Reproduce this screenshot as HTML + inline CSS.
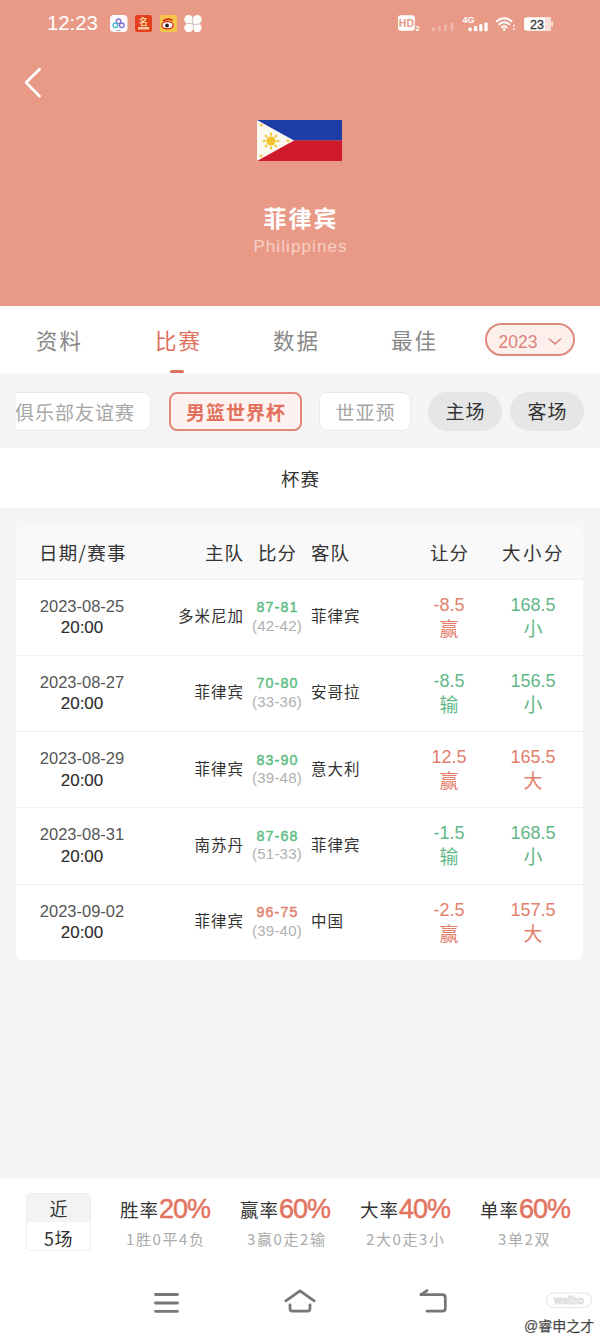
<!DOCTYPE html>
<html lang="zh-CN">
<head>
<meta charset="utf-8">
<title>菲律宾</title>
<style>
*{margin:0;padding:0;box-sizing:border-box;}
html,body{width:600px;height:1338px;overflow:hidden;}
body{position:relative;background:#f5f5f5;font-family:"Liberation Sans","Noto Sans CJK SC",sans-serif;color:#333;}
.abs{position:absolute;}
.cn{font-family:"Noto Sans CJK SC","Liberation Sans",sans-serif;}
.num{font-family:"Liberation Sans","Noto Sans CJK SC",sans-serif;}
/* header */
#hdr{left:0;top:0;width:600px;height:306px;background:#e89a86;}
#time{left:47px;top:10.8px;font-size:20.5px;color:#fff;letter-spacing:-0.1px;}
#title{left:0;width:600px;top:200px;text-align:center;font-size:23px;font-weight:700;color:#fff;letter-spacing:2px;text-indent:2px;}
#sub{left:0;width:600px;top:237px;text-align:center;font-size:17px;letter-spacing:1.1px;text-indent:1.1px;color:#f7cfc5;}
/* tabs */
#tabs{left:0;top:306px;width:600px;height:67px;background:#fff;}
.tab{top:17.5px;font-size:21.5px;color:#888;letter-spacing:2px;}
.tab.on{color:#e0705c;}
#ind{left:170px;top:64px;width:14px;height:3px;border-radius:2px;background:#e0705c;}
#year{left:485px;top:17px;width:90px;height:33px;border:2px solid #dc897e;border-radius:17px;background:#fdf0ec;}
#year span{position:absolute;left:11.5px;top:6.5px;font-size:17.5px;color:#d9857a;}
/* filter */
#filt{left:0;top:373px;width:600px;height:75px;background:#f5f5f5;overflow:hidden;}
.chip{position:absolute;top:19px;height:39px;border-radius:8px;font-size:19px;line-height:37px;text-align:center;letter-spacing:1px;text-indent:1px;}
.chip.w{background:#fff;border:1px solid #e9e9e9;color:#a6a6a6;}
.chip.a{background:#fdf2ef;border:2px solid #e3877b;color:#e2705d;font-weight:700;line-height:35px;}
.chip.g{background:#e6e6e6;border-radius:20px;color:#333;}
/* cup */
#cup{left:0;top:448px;width:600px;height:60px;background:#fff;text-align:center;font-size:18.5px;line-height:60px;color:#333;letter-spacing:1px;text-indent:1px;}
/* card */
#card{left:16px;top:526px;width:567px;height:433.75px;background:#fff;border-radius:8px;overflow:hidden;}
#card .hd{position:absolute;left:0;top:0;width:567px;height:52.5px;background:#f9f9f9;}
.row{position:absolute;left:0;width:567px;height:76.25px;border-top:1px solid #f0f0f0;}
.hdt{position:absolute;top:12.5px;font-size:18.5px;color:#333;letter-spacing:1px;}
.date{position:absolute;left:0;width:132px;text-align:center;top:17px;font-size:16.5px;color:#555;}
.tm{position:absolute;left:0;width:132px;text-align:center;top:38.5px;font-size:17px;color:#2b2b2b;-webkit-text-stroke:0.1px currentColor;}
.home{position:absolute;right:339px;top:24.5px;font-size:15.5px;letter-spacing:1px;color:#333;white-space:nowrap;}
.away{position:absolute;left:295px;top:24.5px;font-size:15.5px;letter-spacing:1px;color:#333;white-space:nowrap;}
.sc{position:absolute;left:221px;width:80px;text-align:center;top:18.5px;font-size:15.5px;color:#5cbd82;-webkit-text-stroke:0.45px currentColor;letter-spacing:1.2px;text-indent:1.2px;transform:scaleX(0.92);font-family:"Liberation Sans",sans-serif;}
.hf{position:absolute;left:221px;width:80px;text-align:center;top:37px;font-size:15px;color:#b0b0b0;letter-spacing:0.2px;font-family:"Liberation Sans",sans-serif;}
.v1{position:absolute;left:393px;width:80px;text-align:center;top:15px;font-size:18px;}
.r1{position:absolute;left:393px;width:80px;text-align:center;top:34px;font-size:19px;}
.v2{position:absolute;left:477px;width:80px;text-align:center;top:15px;font-size:18px;}
.r2{position:absolute;left:477px;width:80px;text-align:center;top:34px;font-size:19px;}
.red{color:#e2806c;}
.grn{color:#62b887;}
/* bottom */
#bot{left:0;top:1177px;width:600px;height:161px;background:#fff;box-shadow:inset 0 1px 0 #efefef;}
#near{left:26px;top:16px;width:65px;height:58px;border:1px solid #efefef;border-radius:4px;overflow:hidden;background:#fff;}
#near .t{position:absolute;left:0;top:0;width:63px;height:28px;background:#f3f3f3;text-align:center;font-size:18px;line-height:29px;color:#333;}
#near .b{position:absolute;left:0;top:28px;width:63px;height:28px;text-align:center;font-size:18px;line-height:32px;color:#333;letter-spacing:0.5px;}
.st{position:absolute;top:17px;white-space:nowrap;}
.st .k{font-size:18.5px;color:#333;letter-spacing:1px;position:relative;top:-1px;}
.st .p{font-size:27px;color:#e3735f;letter-spacing:-1px;-webkit-text-stroke:0.5px currentColor;}
.st2{position:absolute;top:51px;font-size:15px;color:#aaa;white-space:nowrap;letter-spacing:1.6px;}
</style>
</head>
<body>
<div id="hdr" class="abs">
  <div id="time" class="abs num">12:23</div>
  <svg class="abs" style="left:0;top:0" width="600" height="45" viewBox="0 0 600 45">
    <!-- app icon 1 -->
    <rect x="110" y="15" width="17.5" height="17" rx="4" fill="#fdfbff"/>
    <circle cx="118.6" cy="21.3" r="2.3" fill="none" stroke="#8a6bd0" stroke-width="1.3"/>
    <circle cx="115.4" cy="25.3" r="2.3" fill="none" stroke="#49b9c4" stroke-width="1.3"/>
    <circle cx="121.8" cy="25.3" r="2.3" fill="none" stroke="#7a72d6" stroke-width="1.3"/>
    <rect x="116.5" y="30" width="4" height="0.8" fill="#999"/>
    <!-- app icon 2 -->
    <rect x="135" y="15" width="17" height="17" rx="2.5" fill="#e4401c"/>
    <text x="143.5" y="25" font-size="9" fill="#f7d6a0" text-anchor="middle" font-family="Noto Sans CJK SC" font-weight="700">名</text>
    <rect x="138" y="27" width="11" height="2.5" fill="#f5c6a0"/>
    <!-- weibo -->
    <rect x="160" y="15" width="17" height="17" rx="2" fill="#f5c64a"/>
    <ellipse cx="167.5" cy="25.3" rx="5.6" ry="3.6" fill="#fff" stroke="#d42a1e" stroke-width="1.3"/>
    <circle cx="167" cy="25.5" r="1.9" fill="#222"/>
    <path d="M163 21 Q168 17.5 172.5 20.5" fill="none" stroke="#d42a1e" stroke-width="1.8"/>
    <!-- pinwheel -->
    <g fill="#fefcfb">
      <ellipse cx="188.7" cy="19.6" rx="4.4" ry="4.6"/>
      <ellipse cx="197.2" cy="19.6" rx="4.4" ry="4.6"/>
      <ellipse cx="188.7" cy="27.7" rx="4.4" ry="4.6"/>
      <ellipse cx="197.2" cy="27.7" rx="4.4" ry="4.6"/>
      <rect x="186" y="18" width="14" height="12"/>
    </g>
    <path d="M185.5 24 Q189 22.6 192.9 24 Q196.8 25.2 200.5 23.6 M192.9 16.5 Q191.6 20 192.9 23.8 Q194.2 27.6 192.9 31.2" fill="none" stroke="#b7aaa6" stroke-width="0.7"/>
    <!-- HD -->
    <rect x="398" y="15.3" width="16.8" height="15.5" rx="3" fill="#fff"/>
    <text x="406.4" y="27.2" font-size="10.5" font-weight="700" fill="#e89a86" text-anchor="middle" font-family="Liberation Sans">HD</text>
    <text x="415.6" y="31" font-size="7.5" font-weight="700" fill="#fff" font-family="Liberation Sans">2</text>
    <!-- faded signal -->
    <g fill="#fff" opacity="0.28">
      <rect x="432" y="27.5" width="3" height="3.8" rx="0.8"/>
      <rect x="438" y="26" width="3" height="5.3" rx="0.8"/>
      <rect x="444" y="24.3" width="3" height="7" rx="0.8"/>
      <rect x="450.5" y="22.5" width="3" height="8.8" rx="0.8"/>
    </g>
    <!-- 4G -->
    <text x="462.5" y="23.3" font-size="9" font-weight="700" fill="#fff" font-family="Liberation Sans">4G</text>
    <g fill="#fff">
      <rect x="468.5" y="27.5" width="3.2" height="3.8" rx="0.8"/>
      <rect x="474" y="26" width="3.2" height="5.3" rx="0.8"/>
      <rect x="479.2" y="24.3" width="3.2" height="7" rx="0.8"/>
      <rect x="484.4" y="22.5" width="3.2" height="8.8" rx="0.8"/>
    </g>
    <!-- wifi -->
    <g fill="none" stroke="#fff" stroke-width="2" stroke-linecap="round">
      <path d="M496.8 21.2 A11 11 0 0 1 511.6 21.2"/>
      <path d="M499.3 24.3 A7 7 0 0 1 509.1 24.3"/>
      <path d="M501.8 27.3 A3.2 3.2 0 0 1 506.6 27.3"/>
    </g>
    <circle cx="504.2" cy="29.6" r="1.3" fill="#fff"/>
    <circle cx="514" cy="25.5" r="0.9" fill="#fff"/>
    <circle cx="514" cy="29" r="0.9" fill="#fff"/>
    <!-- battery -->
    <rect x="524" y="17.3" width="27" height="13.4" rx="3" fill="#fff"/>
    <rect x="545" y="17.3" width="6" height="13.4" fill="#f8ddd6"/>
    <rect x="551.3" y="21.5" width="1.8" height="5" rx="0.8" fill="#f8ddd6"/>
    <text x="537" y="28.9" font-size="12.5" fill="#333" stroke="#333" stroke-width="0.3" text-anchor="middle" font-family="Liberation Sans">23</text>
  </svg>
  <svg class="abs" style="left:22px;top:66px" width="22" height="34" viewBox="0 0 22 34"><path d="M17.6 3.2 L4 16.5 L17.6 30.2" fill="none" stroke="#fff" stroke-width="2.7" stroke-linecap="round" stroke-linejoin="round"/></svg>
  <svg class="abs" style="left:257px;top:120px" width="85" height="41" viewBox="0 0 85 41">
    <rect x="0" y="0" width="85" height="20.5" fill="#1c3da6"/>
    <rect x="0" y="20.5" width="85" height="20.5" fill="#cf1a2b"/>
    <polygon points="0,0 37,20.5 0,41" fill="#fbf8f2"/>
    <circle cx="14" cy="21" r="4.6" fill="#f4c52a"/>
    <path d="M19.50 21.00L22.30 21.00 M17.89 24.89L19.87 26.87 M14.00 26.50L14.00 29.30 M10.11 24.89L8.13 26.87 M8.50 21.00L5.70 21.00 M10.11 17.11L8.13 15.13 M14.00 15.50L14.00 12.70 M17.89 17.11L19.87 15.13" stroke="#f4c52a" stroke-width="2"/>
    <polygon points="4.20,3.00 4.72,4.49 6.29,4.52 5.04,5.47 5.49,6.98 4.20,6.08 2.91,6.98 3.36,5.47 2.11,4.52 3.68,4.49" fill="#f4c52a"/>
    <polygon points="4.20,33.60 4.72,35.09 6.29,35.12 5.04,36.07 5.49,37.58 4.20,36.68 2.91,37.58 3.36,36.07 2.11,35.12 3.68,35.09" fill="#f4c52a"/>
    <polygon points="31.00,18.80 31.52,20.29 33.09,20.32 31.84,21.27 32.29,22.78 31.00,21.88 29.71,22.78 30.16,21.27 28.91,20.32 30.48,20.29" fill="#f4c52a"/>
  </svg>
  <div id="title" class="abs cn">菲律宾</div>
  <div id="sub" class="abs num">Philippines</div>
</div>

<div id="tabs" class="abs">
  <div class="tab abs cn" style="left:36px">资料</div>
  <div class="tab on abs cn" style="left:155px">比赛</div>
  <div class="tab abs cn" style="left:273px">数据</div>
  <div class="tab abs cn" style="left:391px">最佳</div>
  <div id="ind" class="abs"></div>
  <div id="year" class="abs"><span class="num">2023</span>
    <svg class="abs" style="left:59.5px;top:11.5px" width="16" height="9" viewBox="0 0 16 9"><path d="M2.3 2 L8 6.8 L13.7 2" fill="none" stroke="#d9857a" stroke-width="1.6" stroke-linecap="round" stroke-linejoin="round"/></svg>
  </div>
</div>

<div id="filt" class="abs">
  <div class="abs" style="left:16px;top:0;width:584px;height:75px;overflow:hidden;">
    <div class="chip w cn" style="left:-18px;width:153px;">俱乐部友谊赛</div>
    <div class="chip a cn" style="left:153px;width:133px;">男篮世界杯</div>
    <div class="chip w cn" style="left:303px;width:92px;">世亚预</div>
  </div>
  <div class="chip g cn" style="left:428px;width:74px;">主场</div>
  <div class="chip g cn" style="left:510px;width:74px;">客场</div>
</div>

<div id="cup" class="abs cn">杯赛</div>

<div id="card" class="abs">
  <div class="hd">
    <div class="hdt cn" style="left:23px;letter-spacing:1.3px">日期/赛事</div>
    <div class="hdt cn" style="left:189px">主队</div>
    <div class="hdt cn" style="left:242px">比分</div>
    <div class="hdt cn" style="left:295px">客队</div>
    <div class="hdt cn" style="left:414px">让分</div>
    <div class="hdt cn" style="left:486px;letter-spacing:2.5px">大小分</div>
  </div>
  <div class="row" style="top:52.5px">
    <div class="date num">2023-08-25</div><div class="tm num">20:00</div>
    <div class="home cn">多米尼加</div><div class="sc">87-81</div><div class="hf">(42-42)</div><div class="away cn">菲律宾</div>
    <div class="v1 num red">-8.5</div><div class="r1 cn red">赢</div>
    <div class="v2 num grn">168.5</div><div class="r2 cn grn">小</div>
  </div>
  <div class="row" style="top:128.75px">
    <div class="date num">2023-08-27</div><div class="tm num">20:00</div>
    <div class="home cn">菲律宾</div><div class="sc">70-80</div><div class="hf">(33-36)</div><div class="away cn">安哥拉</div>
    <div class="v1 num grn">-8.5</div><div class="r1 cn grn">输</div>
    <div class="v2 num grn">156.5</div><div class="r2 cn grn">小</div>
  </div>
  <div class="row" style="top:205px">
    <div class="date num">2023-08-29</div><div class="tm num">20:00</div>
    <div class="home cn">菲律宾</div><div class="sc">83-90</div><div class="hf">(39-48)</div><div class="away cn">意大利</div>
    <div class="v1 num red">12.5</div><div class="r1 cn red">赢</div>
    <div class="v2 num red">165.5</div><div class="r2 cn red">大</div>
  </div>
  <div class="row" style="top:281.25px">
    <div class="date num">2023-08-31</div><div class="tm num">20:00</div>
    <div class="home cn">南苏丹</div><div class="sc">87-68</div><div class="hf">(51-33)</div><div class="away cn">菲律宾</div>
    <div class="v1 num grn">-1.5</div><div class="r1 cn grn">输</div>
    <div class="v2 num grn">168.5</div><div class="r2 cn grn">小</div>
  </div>
  <div class="row" style="top:357.5px">
    <div class="date num">2023-09-02</div><div class="tm num">20:00</div>
    <div class="home cn">菲律宾</div><div class="sc" style="color:#e2806c">96-75</div><div class="hf">(39-40)</div><div class="away cn">中国</div>
    <div class="v1 num red">-2.5</div><div class="r1 cn red">赢</div>
    <div class="v2 num red">157.5</div><div class="r2 cn red">大</div>
  </div>
</div>

<div id="bot" class="abs">
  <div id="near" class="abs"><div class="t cn">近</div><div class="b cn">5场</div></div>
  <div class="st" style="left:120px"><span class="k cn">胜率</span><span class="p num">20%</span></div>
  <div class="st2 cn" style="left:126px">1胜0平4负</div>
  <div class="st" style="left:240px"><span class="k cn">赢率</span><span class="p num">60%</span></div>
  <div class="st2 cn" style="left:247px">3赢0走2输</div>
  <div class="st" style="left:360px"><span class="k cn">大率</span><span class="p num">40%</span></div>
  <div class="st2 cn" style="left:366px">2大0走3小</div>
  <div class="st" style="left:480px"><span class="k cn">单率</span><span class="p num">60%</span></div>
  <div class="st2 cn" style="left:498px">3单2双</div>
</div>
<svg class="abs" style="left:0;top:1270px" width="600" height="68" viewBox="0 1270 600 68">
  <g fill="none" stroke="#777" stroke-width="2.8" stroke-linecap="round" stroke-linejoin="round">
    <path d="M155.5 1294.5 H177.5 M155.5 1303 H177.5 M155.5 1311.3 H177.5"/>
    <path d="M285.8 1300.8 L300 1290.8 L314.2 1300.8"/>
    <path d="M290 1305 V1308.5 Q290 1311.2 292.7 1311.2 H307.3 Q310 1311.2 310 1308.5 V1305"/>
    <path d="M421 1294.6 H442.3 Q445.3 1294.6 445.3 1297.6 V1308.2 Q445.3 1311.2 442.3 1311.2 H427"/>
    <path d="M421 1294.6 L427 1290.6"/>
  </g>
  <g>
    <rect x="546.5" y="1293" width="45" height="14.5" rx="7.2" fill="#fff" stroke="#e6e6e6" stroke-width="1.2"/>
    <text x="569" y="1304.2" font-size="10.5" font-weight="700" fill="#fff" stroke="#d8d8d8" stroke-width="0.8" text-anchor="middle" font-family="Liberation Sans">weibo</text>
  </g>
  <text x="524" y="1330.5" font-size="14" fill="#3a3a3a" stroke="#777" stroke-width="0.25" font-family="Liberation Sans, Noto Sans CJK SC, sans-serif">@睿申之才</text>
</svg>
</body>
</html>
